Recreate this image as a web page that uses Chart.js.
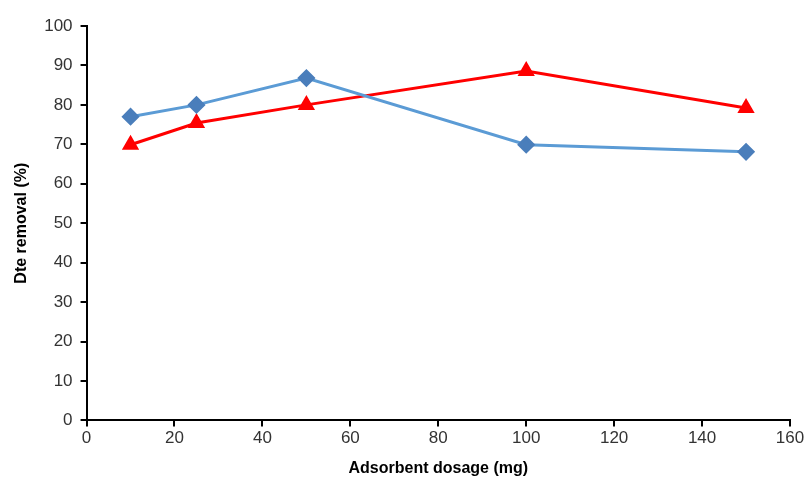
<!DOCTYPE html>
<html>
<head>
<meta charset="utf-8">
<script src="https://cdn.jsdelivr.net/npm/chart.js@4"></script>
<style>
  html, body { margin: 0; padding: 0; background: #fff; }
  #wrap { width: 810px; height: 482px; }
</style>
</head>
<body>
<div id="wrap"><canvas id="removalChart" width="810" height="482"></canvas></div>
<script>
// ===== DATA =====
const dosage = [10, 25, 50, 100, 150];
const blueRemoval = [77.0, 80.0, 86.8, 69.9, 68.1];
const redRemoval = [69.9, 75.4, 80.0, 88.6, 79.2];
const xTicks = [0, 20, 40, 60, 80, 100, 120, 140, 160];
const yTicks = [0, 10, 20, 30, 40, 50, 60, 70, 80, 90, 100];

const toPoints = (xs, ys) => xs.map((x, i) => ({ x: x, y: ys[i] }));

const tickFont = { family: "'Liberation Sans', Arial, sans-serif", size: 17 };
const titleFont = { family: "'Liberation Sans', Arial, sans-serif", size: 16, weight: "bold" };

// ===== CHART =====
const ctx = document.getElementById("removalChart").getContext("2d");

const removalChart = new Chart(ctx, {
  type: "line",
  data: {
    datasets: [{
      label: "Series 1",
      data: toPoints(dosage, blueRemoval),
      borderColor: "#5b9bd5",
      borderWidth: 3,
      pointStyle: "rectRot",
      pointRadius: 7,
      pointBackgroundColor: "#4a7ebb",
      pointBorderColor: "#4a7ebb",
      fill: false,
      tension: 0
    }, {
      label: "Series 2",
      data: toPoints(dosage, redRemoval),
      borderColor: "#ff0000",
      borderWidth: 3,
      pointStyle: "triangle",
      pointRadius: 7,
      pointBackgroundColor: "#ff0000",
      pointBorderColor: "#ff0000",
      fill: false,
      tension: 0
    }]
  },
  options: {
    responsive: false,
    animation: false,
    layout: { padding: { top: 26, right: 20, left: 8, bottom: 0 } },
    plugins: {
      legend: { display: false },
      tooltip: { enabled: false }
    },
    scales: {
      x: {
        type: "linear",
        min: 0,
        max: 160,
        afterBuildTicks: axis => { axis.ticks = xTicks.map(v => ({ value: v })); },
        border: { color: "#000", width: 2 },
        grid: { drawOnChartArea: false, color: "#000", lineWidth: 2, tickLength: 6 },
        ticks: { color: "#333", font: tickFont, padding: 2, maxRotation: 0 },
        title: { display: true, text: "Adsorbent dosage (mg)", color: "#000", font: titleFont, padding: { top: 8 } }
      },
      y: {
        type: "linear",
        min: 0,
        max: 100,
        afterBuildTicks: axis => { axis.ticks = yTicks.map(v => ({ value: v })); },
        border: { color: "#000", width: 2 },
        grid: { drawOnChartArea: false, color: "#000", lineWidth: 2, tickLength: 6 },
        ticks: { color: "#333", font: tickFont, padding: 8 },
        title: { display: true, text: "Dte removal (%)", color: "#000", font: titleFont, padding: { bottom: 5 } }
      }
    }
  }
});
</script>
</body>
</html>
